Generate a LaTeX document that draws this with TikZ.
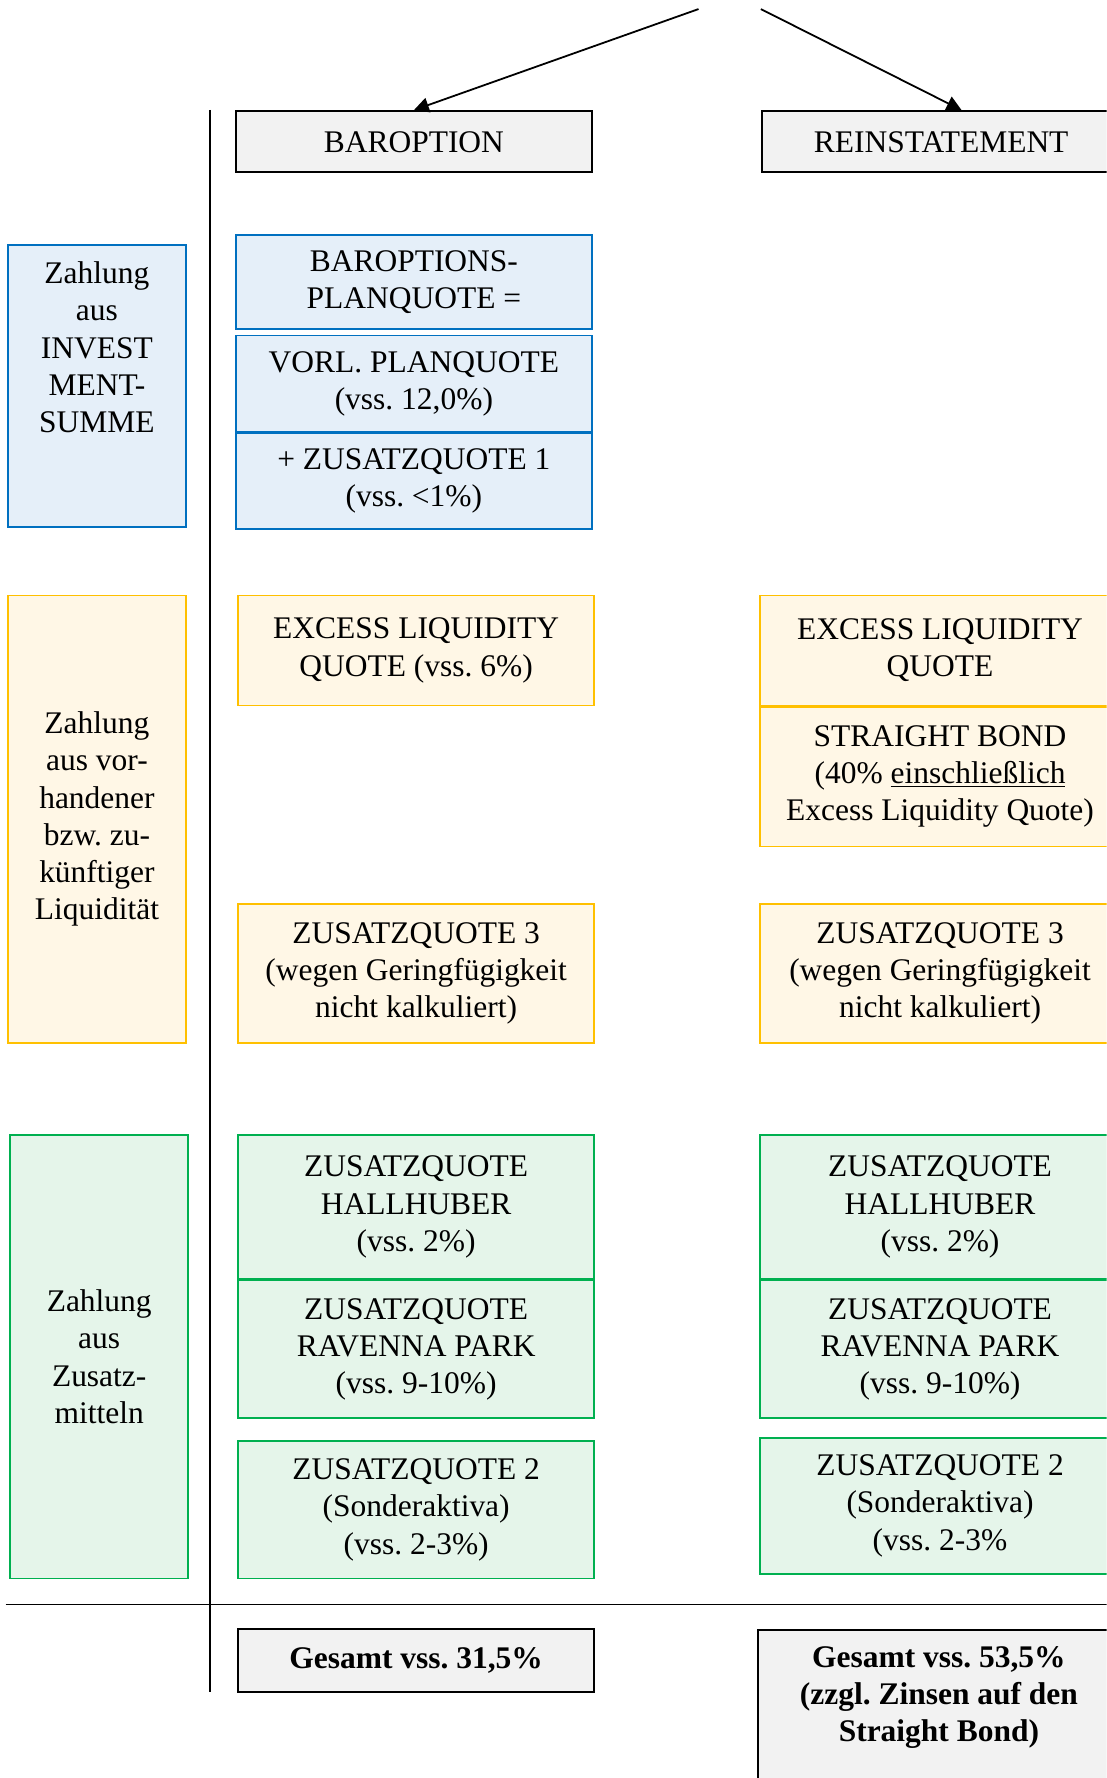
\documentclass[tikz,border=0pt]{standalone}
\usepackage{fontspec}
\setmainfont{Liberation Serif}
\usetikzlibrary{positioning,arrows.meta}
\frenchspacing

\definecolor{blueline}{HTML}{0070C0}
\definecolor{bluefill}{HTML}{E5EFF9}
\definecolor{amberline}{HTML}{FFC000}
\definecolor{amberfill}{HTML}{FFF7E6}
\definecolor{greenline}{HTML}{00B050}
\definecolor{greenfill}{HTML}{E5F5EA}
\definecolor{grayfill}{HTML}{F2F2F2}

\begin{document}
\begin{tikzpicture}[x=0.02cm,y=-0.02cm,node distance=0pt,
    every node/.style={font=\fontsize{15.8}{18.7}\selectfont,align=center,inner sep=0pt},
    box/.style={line width=0.8pt,minimum width=6.28cm},
    rbox/.style={minimum width=6.36cm},
    side/.style={minimum width=3.14cm},
    bluebox/.style={box,draw=blueline,fill=bluefill},
    amberbox/.style={box,draw=amberline,fill=amberfill},
    greenbox/.style={box,draw=greenline,fill=greenfill},
    graybox/.style={box,draw=black,line width=1pt,fill=grayfill},
    pfeil/.style={line width=0.9pt,-{Triangle[length=7.5pt,width=7.5pt]}}]
  \useasboundingbox (0,0) rectangle (976,1568);
  \clip (0,0) rectangle (976,1568);

  % Kopf
  \coordinate (start1) at (616,8);
  \coordinate (start2) at (671,8);
  \node[graybox,minimum height=1.08cm] (barop) at (365,125) {BAROPTION};
  \node[graybox,minimum width=6.32cm,minimum height=1.08cm] (reinst) at (830,125) {REINSTATEMENT};
  \draw[pfeil] (start1) -- (barop.north);
  \draw[pfeil] (start2) -- ([xshift=0.36cm]reinst.north);

  % Trennlinien
  \draw[line width=0.8pt] (185,97) -- (185,1492);
  \draw[line width=0.8pt] (5,1415) -- (976,1415);

  % Investmentsumme
  \node[bluebox,side,minimum height=4.98cm] (invest) at (85.5,340.5) {};
  \node (investtxt) at ([yshift=-1.82cm]invest.north) {Zahlung\\aus\\INVEST\\MENT-\\SUMME};
  \node[bluebox,minimum height=1.66cm] (planq) at (365,248.5) {BAROPTIONS-\\PLANQUOTE =};
  \node[bluebox,minimum height=1.70cm] (vorl) at (365,338.5) {VORL. PLANQUOTE\\(vss. 12,0\%)};
  \node[bluebox,minimum height=1.68cm,below=of vorl] (zq1) {+ ZUSATZQUOTE 1\\(vss. <1\%)};

  % Liquiditaet
  \node[amberbox,side,minimum height=7.90cm] (liquid) at (85.5,722.5)
    {Zahlung\\aus vor-\\handener\\bzw. zu-\\künftiger\\Liquidität};
  \node[amberbox,minimum height=1.94cm] (excessl) at (367,573.5) {EXCESS LIQUIDITY\\QUOTE (vss. 6\%)};
  \node[amberbox,rbox,minimum height=1.94cm] (excessr) at (829,573.5) {EXCESS LIQUIDITY\\QUOTE};
  \node[amberbox,rbox,minimum height=2.46cm,below=of excessr] (bondr)
    {STRAIGHT BOND\\(40\% \underline{einschließlich}\\Excess Liquidity Quote)};
  \node[amberbox,minimum height=2.46cm] (zq3l) at (367,858.5)
    {ZUSATZQUOTE 3\\(wegen Geringfügigkeit\\nicht kalkuliert)};
  \node[amberbox,rbox,minimum height=2.46cm] (zq3r) at (829,858.5)
    {ZUSATZQUOTE 3\\(wegen Geringfügigkeit\\nicht kalkuliert)};

  % Zusatzmittel
  \node[greenbox,side,minimum height=7.82cm] (zusatz) at (87.5,1196.5) {Zahlung\\aus\\Zusatz-\\mitteln};
  \node[greenbox,minimum height=2.54cm] (hallhl) at (367,1064.5) {ZUSATZQUOTE\\HALLHUBER\\(vss. 2\%)};
  \node[greenbox,minimum height=2.42cm,below=of hallhl] (ravl) {ZUSATZQUOTE\\RAVENNA PARK\\(vss. 9-10\%)};
  \node[greenbox,rbox,minimum height=2.54cm] (hallhr) at (829,1064.5) {ZUSATZQUOTE\\HALLHUBER\\(vss. 2\%)};
  \node[greenbox,rbox,minimum height=2.42cm,below=of hallhr] (ravr) {ZUSATZQUOTE\\RAVENNA PARK\\(vss. 9-10\%)};
  \node[greenbox,minimum height=2.42cm] (zq2l) at (367,1331.5) {ZUSATZQUOTE 2\\(Sonderaktiva)\\(vss. 2-3\%)};
  \node[greenbox,rbox,minimum height=2.40cm] (zq2r) at (829,1328) {ZUSATZQUOTE 2\\(Sonderaktiva)\\(vss. 2-3\%};

  % Gesamt
  \node[graybox,minimum height=1.10cm,font=\fontsize{15.8}{18.7}\selectfont\bfseries] (gesl) at (367,1464.5) {Gesamt vss. 31,5\%};
  \node[graybox,minimum width=6.40cm,minimum height=3.6cm,anchor=north] (gesr) at (828,1437) {};
  \node[font=\fontsize{15.8}{18.7}\selectfont\bfseries] (gesrtxt) at ([yshift=-1.2cm]gesr.north)
    {Gesamt vss. 53,5\%\\(zzgl. Zinsen auf den\\Straight Bond)};
\end{tikzpicture}
\end{document}
